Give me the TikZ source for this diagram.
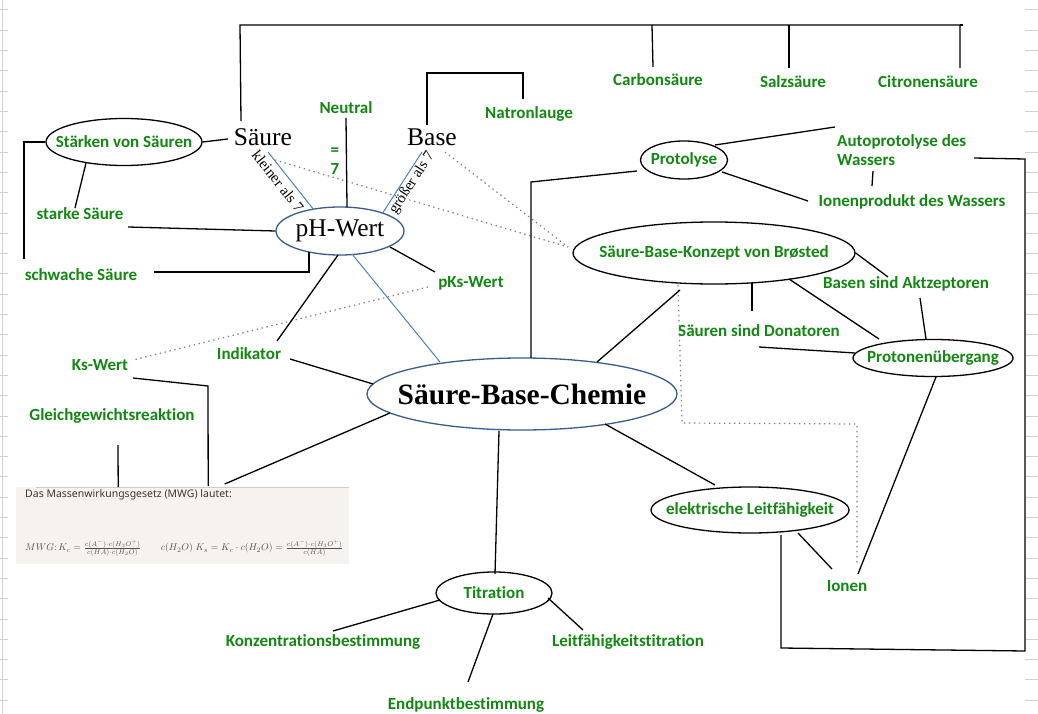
\documentclass[tikz,border=0pt]{standalone}
\usepackage{fontspec}
\usepackage{graphicx}
\usetikzlibrary{shapes.geometric,calc}
\newfontfamily\carl[Ligatures=NoCommon]{Carlito}
\newfontfamily\serifff{Liberation Serif}
\newfontfamily\notos{Noto Sans}
\definecolor{lgreen}{RGB}{18,135,18}
\definecolor{ellblue}{RGB}{56,93,138}
\definecolor{lineblue}{RGB}{79,129,189}
\definecolor{boxfill}{RGB}{246,243,239}
\definecolor{boxtext}{RGB}{58,52,48}
\definecolor{formtext}{RGB}{85,80,75}
\begin{document}
\begin{tikzpicture}[x=1pt,y=-1pt,
  lab/.style={text=lgreen, font=\carl\bfseries\fontsize{17}{19}\selectfont, inner sep=1pt},
  ell/.style={draw=black, line width=1.3pt, ellipse, inner sep=0pt, fill=white},
  bell/.style={draw=ellblue, line width=1.3pt, ellipse, inner sep=0pt, fill=white},
  conn/.style={black, line width=1.3pt},
  bconn/.style={lineblue, line width=1pt},
  dots/.style={gray, line width=1.2pt, dash pattern=on 1.4pt off 3.6pt},
  big/.style={font=\serifff\fontsize{25.5}{28}\selectfont, inner sep=1pt},
  rot/.style={font=\serifff\fontsize{15}{17}\selectfont, inner sep=0pt},
  tick/.style={gray!35, line width=1pt}
]
\fill[white] (0,0) rectangle (1038,714);
\useasboundingbox (0,0) rectangle (1038,714);

% edge ticks
\draw[tick] (2,0) -- (2,714);
\foreach \k in {0,...,34} {
  \draw[tick] (0,{10+20.3*\k}) -- (8,{10+20.3*\k});
  \draw[tick] (1025,{10+20.3*\k}) -- (1038,{10+20.3*\k});
}

% ---------- nodes ----------
\node[lab] (carbon) at (658,80) {Carbonsäure};
\node[lab] (salz) at (793,82) {Salzsäure};
\node[lab] (citron) at (928,82) {Citronensäure};
\node[lab] (natron) at (529,114) {Natronlauge};
\node[big] (saeure) at (263,137) {Säure};
\node[big] (base) at (432,137) {Base};
\node[lab] (neutral) at (346,108) {Neutral};
\node[lab, align=left] (eqseven) at (335,161) {=\\7};

\node[ell, minimum width=156pt, minimum height=47pt,
  label={[lab]center:Stärken von Säuren}] (staerken) at (124,142) {};
\node[lab] (starke) at (80,214) {starke Säure};
\node[lab] (schwache) at (81,275) {schwache Säure};

\node[bell, minimum width=128pt, minimum height=48pt,
  label={[big]center:pH-Wert}] (phwert) at (340,231) {};
\node[lab] (pks) at (471,283) {pKs-Wert};
\node[lab] (ks) at (100,365) {Ks-Wert};
\node[lab] (indikator) at (249,354) {Indikator};
\node[lab] (gleich) at (112,416) {Gleichgewichtsreaktion};

\node[rot, rotate=-51.6] (kleiner) at (278,181) {kleiner als 7};
\node[rot, rotate=57] (groesser) at (412,183) {größer als 7};

\node[bell, minimum width=310pt, minimum height=72pt,
  label={[font=\serifff\bfseries\fontsize{29.5}{32}\selectfont, inner sep=0pt]center:Säure-Base-Chemie}] (sbc) at (522,394) {};

\node[fill=boxfill, minimum width=333pt, minimum height=77pt, inner sep=0pt, anchor=north west] (mwg) at (16,487) {};
\draw[gray!40, line width=1pt] ($(mwg.north west)+(20,0)$) -- (mwg.north east);
\node[anchor=west, font=\notos\fontsize{10.5}{12}\selectfont, text=boxtext, inner sep=0pt] (mwgtitle)
  at ($(mwg.north west)+(9,8)$) {Das Massenwirkungsgesetz (MWG) lautet:};
\node[anchor=west, inner sep=0pt, text=formtext] (mwgform) at ($(mwg.north west)+(9,61)$)
  {\resizebox{318pt}{!}{$MWG\colon K_c=\frac{c(A^-)\cdot c(H_3O^+)}{c(HA)\cdot c(H_2O)}\qquad c(H_2O)\;K_s=K_c\cdot c(H_2O)=\frac{c(A^-)\cdot c(H_3O^+)}{c(HA)}$}};

\node[ell, minimum width=87pt, minimum height=38pt,
  label={[lab]center:Protolyse}] (protolyse) at (684,160) {};
\node[lab, anchor=west, align=left] (auto) at (836,150) {Autoprotolyse des\\Wassers};
\node[lab] (ionenprod) at (912,202) {Ionenprodukt des Wassers};

\node[ell, minimum width=282pt, minimum height=62pt,
  label={[lab]center:Säure-Base-Konzept von Brøsted}] (bronsted) at (714,253) {};
\node[lab] (basen) at (906,284) {Basen sind Aktzeptoren};
\node[lab] (saeurenD) at (759,331) {Säuren sind Donatoren};
\node[ell, minimum width=160pt, minimum height=37pt,
  label={[lab]center:Protonenübergang}] (proton) at (933,358) {};

\node[ell, minimum width=198pt, minimum height=46pt,
  label={[lab]center:elektrische Leitfähigkeit}] (elek) at (750,510) {};
\node[lab] (ionen) at (847,586) {Ionen};

\node[ell, minimum width=116pt, minimum height=42pt,
  label={[lab]center:Titration}] (titration) at (494,593) {};
\node[lab] (konz) at (323,642) {Konzentrationsbestimmung};
\node[lab] (endp) at (466,705) {Endpunktbestimmung};
\node[lab] (leitf) at (628,642) {Leitfähigkeitstitration};

% ---------- connectors ----------
% top bracket
\draw[conn] ($(saeure)+(-22,-16)$) -- ($(saeure)+(-23,-112)$) -| ($(citron)+(32,-14)$);
\draw[conn] ($(citron)+(32,-57)$) -- ($(citron)+(35,-57)$);
\draw[conn] ($(carbon)+(-5,-13)$) -- ($(carbon)+(-6,-55)$);
\draw[conn] ($(salz)+(-4,-14)$) -- ($(salz)+(-4,-57)$);
% base bracket
\draw[conn] ($(base)+(-5,-12)$) |- ($(natron)+(-6,-41)$) -- ($(natron)+(-6,-15)$);
% neutral
\draw[conn] ($(neutral)+(0,10)$) -- ($(phwert)+(7,-24)$);
% blue
\draw[bconn] ($(saeure)+(5,15)$) -- ($(phwert)+(-26,-21)$);
\draw[bconn] ($(base)+(-10,15)$) -- ($(phwert)+(42,-17)$);
\draw[bconn] ($(phwert)+(12,23)$) -- ($(sbc)+(-82,-32)$);
% dotted
\draw[dots] ($(saeure)+(12,23)$) -- ($(bronsted)+(-146,-6)$);
\draw[dots] ($(base)+(13,15)$) -- ($(bronsted)+(-146,-6)$);
\draw[dots] ($(pks)+(-43,4)$) -- ($(ks)+(33,-5)$);
\draw[dots] ($(bronsted)+(-36,32)$) -- ($(ionen)+(-165,-163)$) -- ($(ionen)+(10,-162)$) -- ($(ionen)+(10,-23)$);
% Stärken
\draw[conn] (staerken.east) -- ($(saeure)+(-35,2)$);
\draw[conn] (staerken.west) -| ($(schwache)+(-57,-16)$);
\draw[conn] ($(staerken)+(-38,21)$) -- ($(starke)+(-5,-6)$);
% pH-Wert
\draw[conn] ($(starke)+(48,13)$) -- (phwert.west);
\draw[conn] ($(schwache)+(73,-3)$) -| ($(phwert)+(-31,21)$);
\draw[conn] ($(phwert)+(50,16)$) -- ($(pks)+(-36,-11)$);
\draw[conn] ($(phwert)+(-2,24)$) -- ($(indikator)+(28,-13)$);
\draw[conn] ($(indikator)+(41,5)$) -- ($(sbc)+(-149,-10)$);
% Ks / Gleichgewicht / MWG
\draw[conn] ($(ks)+(33,13)$) -- ($(ks)+(108,21)$) -- ($(mwg.north)+(25.5,-1)$);
\draw[conn] ($(gleich)+(6,29)$) -- ($(mwg.north)+(-64.5,0)$);
\draw[conn] ($(mwg.north)+(42,-3)$) -- ($(sbc)+(-132,19)$);
% SBC
\draw[conn] ($(sbc)+(9,-36)$) -- ($(sbc)+(9,-212)$) -- ($(protolyse)+(-47,11)$);
\draw[conn] ($(sbc)+(75,-32)$) -- ($(bronsted)+(-34,37)$);
\draw[conn] ($(sbc)+(-23,37)$) -- ($(titration)+(1,-19)$);
\draw[conn] ($(sbc)+(83,30)$) -- ($(elek)+(-35,-25)$);
% Protolyse
\draw[conn] ($(protolyse)+(31,-15)$) -- ($(auto.west)+(-1,-23)$);
\draw[conn] ($(protolyse)+(38,12)$) -- ($(ionenprod)+(-104,-1)$);
\draw[conn] ($(ionenprod)+(-39,-31)$) -- ($(ionenprod)+(-40,-16)$);
\draw[conn] ($(auto.west)+(138,8)$) -- ($(auto.west)+(189,9)$) -- ($(elek)+(275,141)$) -- ($(elek)+(31,138)$) -- ($(elek)+(31,25)$);
% Brønsted
\draw[conn] (bronsted.east) -- ($(basen)+(-18,-7)$);
\draw[conn] ($(basen)+(14,14)$) -- ($(proton)+(-7,-19)$);
\draw[conn] ($(bronsted)+(38,30)$) -- ($(saeurenD)+(-7,-20)$);
\draw[conn] ($(bronsted)+(75,26)$) -- ($(proton)+(-54,-19)$);
\draw[conn] ($(saeurenD)+(0,16)$) -- ($(proton)+(-78,-5)$);
\draw[conn] ($(proton)+(3,19)$) -- ($(ionen)+(11,-12)$);
% elektrische Leitfähigkeit
\draw[conn] ($(elek)+(48,23)$) -- ($(ionen)+(-15,-17)$);
% Titration
\draw[conn] ($(titration)+(-54,7)$) -- ($(konz)+(10,-11)$);
\draw[conn] ($(titration)+(-1,21)$) -- ($(endp)+(2,-23)$);
\draw[conn] ($(titration)+(54,5)$) -- ($(leitf)+(-45,-12)$);
\end{tikzpicture}
\end{document}
